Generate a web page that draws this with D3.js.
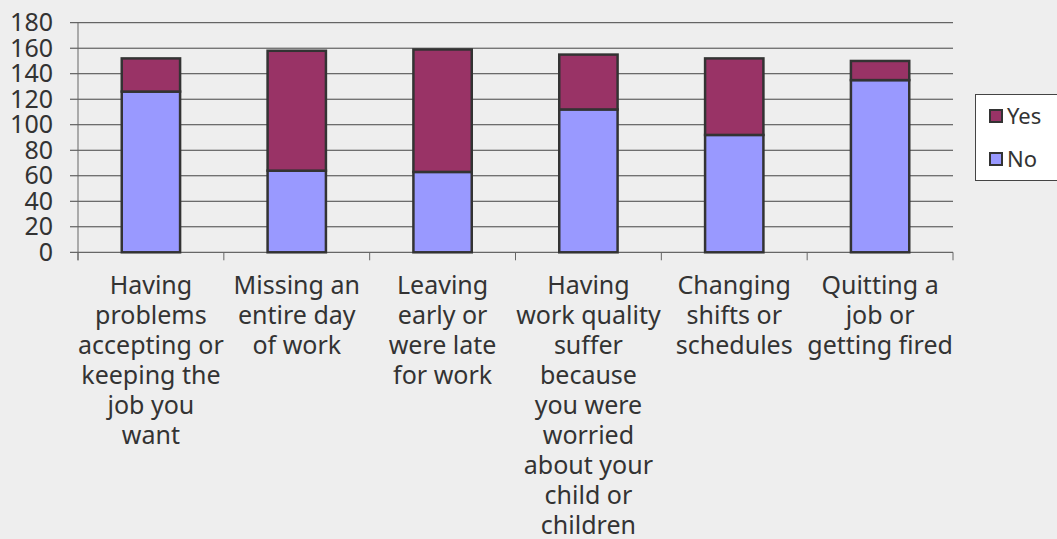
<!DOCTYPE html>
<html>
<head>
<meta charset="utf-8">
<script src="https://cdn.jsdelivr.net/npm/d3@7"></script>
<style>
  html, body { margin: 0; padding: 0; background: #eeeeee; }
  svg { display: block; font-family: "Noto Sans", sans-serif; }
</style>
</head>
<body>
<svg id="chart" width="1057" height="539"></svg>
<script>
// chart data
const categories = ["problems", "missing", "leaving", "quality", "shifts", "quitting"];
const labelLines = [
  ["Having", "problems", "accepting or", "keeping the", "job you", "want"],
  ["Missing an", "entire day", "of work"],
  ["Leaving", "early or", "were late", "for work"],
  ["Having", "work quality", "suffer", "because", "you were", "worried", "about your", "child or", "children"],
  ["Changing", "shifts or", "schedules"],
  ["Quitting a", "job or", "getting fired"]
];
const noValues = [126, 64, 63, 112, 92, 135];
const yesValues = [26, 94, 96, 43, 60, 15];
const seriesNames = ["No", "Yes"];
const yTicks = [0, 20, 40, 60, 80, 100, 120, 140, 160, 180];

const colors = { No: "#9999ff", Yes: "#993366" };

var plotLeft = 78, plotRight = 953, plotTop = 22.7, plotBottom = 252.3;
var svg = d3.select("#chart");

var rows = categories.map((c, i) => ({ cat: c, No: noValues[i], Yes: yesValues[i] }));
var stacked = d3.stack().keys(seriesNames)(rows);

var x = d3.scaleBand()
  .domain(categories)
  .range([plotLeft, plotRight])
  .paddingInner(0.6)
  .paddingOuter(0.3);

var y = d3.scaleLinear()
  .domain([0, 180])
  .range([plotBottom, plotTop]);

// gridlines
svg.append("g")
  .selectAll("line")
  .data(yTicks)
  .enter()
  .append("line")
  .attr("x1", plotLeft - 8)
  .attr("x2", plotRight)
  .attr("y1", d => y(d))
  .attr("y2", d => y(d))
  .attr("stroke", "#444")
  .attr("stroke-width", 1);

// y axis labels
var yAxis = d3.axisLeft(y)
  .tickValues(yTicks)
  .tickSize(0)
  .tickPadding(25);

var ya = svg.append("g")
  .attr("transform", "translate(" + plotLeft + ",0)")
  .call(yAxis);
ya.select(".domain").remove();
ya.selectAll("text")
  .attr("fill", "#333")
  .style("font-size", "25px")
  .style("font-family", "Noto Sans, sans-serif");

// axis line at left and category ticks
svg.append("line")
  .attr("x1", plotLeft).attr("x2", plotLeft)
  .attr("y1", plotTop).attr("y2", plotBottom + 8)
  .attr("stroke", "#666");

var step = x.step();
svg.append("g")
  .selectAll("line")
  .data(d3.range(categories.length + 1))
  .enter()
  .append("line")
  .attr("x1", i => plotLeft + i * step)
  .attr("x2", i => plotLeft + i * step)
  .attr("y1", plotBottom)
  .attr("y2", plotBottom + 8)
  .attr("stroke", "#666");

// bars
svg.append("g")
  .selectAll("g")
  .data(stacked)
  .enter()
  .append("g")
  .attr("fill", d => colors[d.key])
  .selectAll("rect")
  .data(d => d)
  .enter()
  .append("rect")
  .attr("x", d => x(d.data.cat))
  .attr("width", x.bandwidth())
  .attr("y", d => y(d[1]))
  .attr("height", d => y(d[0]) - y(d[1]))
  .attr("stroke", "#333")
  .attr("stroke-width", 2.5);

// category labels
var lab = svg.append("g")
  .selectAll("text")
  .data(categories)
  .enter()
  .append("text")
  .attr("text-anchor", "middle")
  .attr("fill", "#333")
  .style("font-size", "25px")
  .attr("transform", d => "translate(" + (x(d) + x.bandwidth() / 2) + ",294)");

lab.each(function (d, i) {
  d3.select(this)
    .selectAll("tspan")
    .data(labelLines[i])
    .enter()
    .append("tspan")
    .attr("x", 0)
    .attr("y", (t, j) => j * 30)
    .text(t => t);
});

// legend
var legend = svg.append("g");
legend.append("rect")
  .attr("x", 975.5)
  .attr("y", 94.5)
  .attr("width", 90)
  .attr("height", 86)
  .attr("fill", "#fff")
  .attr("stroke", "#444");

var legendItems = ["Yes", "No"];
var li = legend.selectAll("g.item")
  .data(legendItems)
  .enter()
  .append("g")
  .attr("class", "item")
  .attr("transform", (d, i) => "translate(990," + (110 + i * 43) + ")");

li.append("rect")
  .attr("width", 12)
  .attr("height", 12)
  .attr("fill", d => colors[d])
  .attr("stroke", "#333")
  .attr("stroke-width", 2);

li.append("text")
  .attr("x", 17)
  .attr("y", 13.5)
  .attr("fill", "#333")
  .style("font-size", "22px")
  .text(d => d);
</script>
</body>
</html>
